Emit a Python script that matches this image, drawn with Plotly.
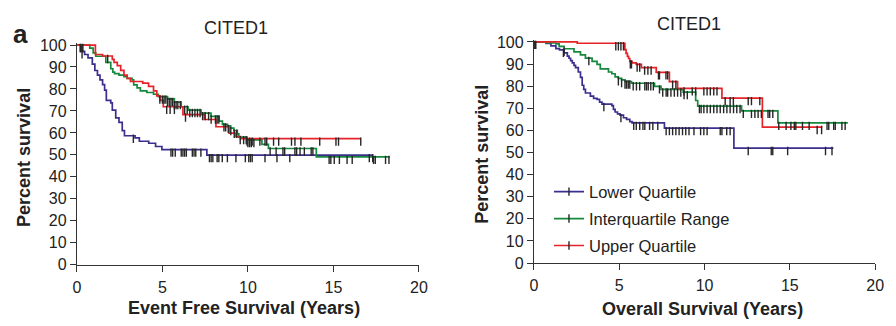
import plotly.graph_objects as go

# ---------------- Event free survival (left panel) ----------------
efs_lower_t = [0, 0.25, 0.45, 0.65, 0.9, 1.05, 1.2, 1.35, 1.5, 1.62, 1.72, 1.98, 2.07, 2.27, 2.46, 2.65, 2.78, 3.4, 3.65, 4.2, 4.6, 4.97, 7.6, 17.3]
efs_lower_s = [100, 97.1, 95.7, 94.2, 91.3, 88.4, 86.3, 84.1, 82.0, 79.5, 74.8, 73.7, 70.4, 66.8, 64.8, 61.0, 58.7, 57.7, 56.2, 55.3, 53.8, 52.4, 49.9, 49.9]
efs_lower_c = [0.2, 0.3, 3.3, 5.5, 5.6, 5.75, 6.1, 6.2, 6.3, 6.4, 6.75, 6.85, 6.95, 7.25, 7.75, 7.85, 7.95, 8.2, 8.3, 8.5, 8.8, 9.3,
               9.85, 10.05, 10.15, 10.25, 11.0, 11.7, 12.45, 17.1, 17.3]

efs_inter_t = [0, 0.75, 0.95, 1.1, 1.69, 1.98, 2.1, 2.2, 2.46, 2.75, 2.94, 3.23, 3.32, 3.52, 3.71, 4.09, 4.48, 4.76, 5.3, 5.7,
               6.1, 6.5, 7.26, 7.84, 8.32, 8.51, 8.8, 8.99, 9.18, 9.38, 9.47, 9.95, 10.82, 11.2, 14.0, 18.3]
efs_inter_s = [100, 98.6, 96.4, 94.9, 92.1, 89.2, 87.7, 87.0, 86.3, 85.6, 84.8, 84.1, 81.9, 80.5, 79.1, 78.4, 77.6, 76.5, 75.5, 74.0,
               71.9, 70.4, 69.0, 67.5, 65.4, 63.9, 63.2, 62.2, 61.0, 59.6, 58.1, 56.8, 54.8, 52.9, 49.1, 49.1]
efs_inter_c = [0.2, 0.35, 4.85, 5.0, 5.1, 5.2, 5.3, 5.4, 5.5, 5.6, 5.7, 5.8, 5.9, 6.05, 6.3, 6.45, 6.6, 6.75, 6.9, 7.05, 7.2,
               7.35, 7.5, 7.7, 7.85, 8.1, 8.2, 8.3, 8.6, 8.7, 8.85, 9.0, 9.2, 9.35, 9.55, 9.75, 9.9, 10.0, 10.1, 10.2, 10.35,
               11.3, 11.65, 12.05, 12.15, 12.75, 12.85, 13.05, 13.3, 13.7, 13.8, 14.75, 14.85, 15.05, 15.35, 15.8, 16.1,
               17.35, 17.45, 18.05, 18.25]

efs_upper_t = [0, 1.08, 1.5, 2.07, 2.17, 2.36, 2.56, 2.75, 2.94, 3.13, 3.85, 4.19, 4.48, 4.67, 4.86, 5.05, 6.2, 7.45, 8.13, 8.9, 9.28, 9.57, 16.6]
efs_upper_s = [100, 95.7, 95.0, 93.5, 92.1, 90.6, 88.5, 86.3, 84.8, 83.4, 82.7, 81.2, 79.1, 76.9, 74.8, 71.9, 68.3, 66.1, 62.8, 59.9, 58.3, 57.4, 57.4]
efs_upper_c = [0.3, 1.8, 5.25, 5.45, 5.7, 6.35, 9.95, 10.1, 10.25, 10.7, 11.0, 11.1, 11.5, 11.8, 12.55, 12.75, 13.1, 14.2,
               15.15, 15.3, 16.6]

# ---------------- Overall survival (right panel) ----------------
os_lower_t = [0, 0.71, 1.0, 1.29, 1.5, 1.77, 1.96, 2.06, 2.15, 2.25, 2.35, 2.44, 2.6, 2.73, 2.83, 2.92, 3.02, 3.31, 3.5, 3.7,
              3.85, 3.99, 4.57, 4.66, 4.76, 4.9, 5.05, 5.25, 5.43, 5.62, 5.75, 7.65, 11.72, 17.55]
os_lower_s = [100, 99.3, 98.2, 97.0, 96.4, 95.0, 93.6, 92.6, 91.5, 90.5, 89.4, 88.4, 86.4, 84.0, 80.4, 78.5, 76.9, 75.5, 74.5, 74.0,
              72.8, 71.9, 71.2, 69.5, 68.3, 67.5, 66.9, 65.7, 65.0, 64.0, 63.4, 61.0, 52.0, 52.0]
os_lower_c = [0.1, 1.73, 4.1, 5.1, 5.85, 6.0, 6.2, 6.39, 6.5, 6.78, 6.97, 7.26, 7.75, 7.94, 8.13, 8.32, 8.51, 8.71, 8.9, 9.09,
              9.38, 9.77, 9.96, 10.15, 10.92, 11.02, 11.3, 11.5, 12.56, 13.91, 14.0, 14.87, 17.09, 17.47]

os_inter_t = [0, 0.71, 1.29, 1.48, 1.77, 2.35, 2.73, 3.02, 3.41, 3.7, 3.89, 4.37, 4.57, 4.76, 4.95, 5.14, 5.34, 5.72, 7.07, 7.45,
              8.75, 9.48, 9.6, 12.17, 14.3, 18.4]
os_inter_s = [100, 99.5, 99.1, 98.0, 96.9, 95.5, 94.1, 92.7, 91.2, 89.8, 87.8, 86.4, 85.6, 84.2, 83.5, 82.8, 82.1, 81.3, 79.9, 78.5,
              77.3, 73.5, 71.0, 68.8, 63.4, 63.4]
os_inter_c = [0.1, 1.77, 3.22, 4.95, 5.14, 5.34, 5.43, 5.53, 5.62, 5.82, 6.01, 6.2, 6.5, 6.6, 6.7, 6.85, 7.0, 7.36, 7.55, 7.75,
              7.84, 8.03, 8.23, 8.42, 8.61, 8.8, 8.99, 9.7, 9.8, 9.96, 10.15, 10.34, 10.54, 10.73, 10.92, 11.12, 11.31, 11.5,
              11.7, 11.89, 12.08, 12.27, 12.75, 12.95, 13.14, 13.33, 13.72, 13.82, 14.0, 14.35, 14.78, 15.06, 15.26, 15.35,
              15.74, 16.13, 17.18, 17.28, 17.57, 17.66, 18.05, 18.24]

os_upper_t = [0, 2.54, 5.33, 5.4, 5.48, 5.55, 5.62, 5.75, 6.0, 6.3, 7.17, 7.94, 8.42, 11.02, 13.39, 16.9]
os_upper_s = [100, 99.4, 96.5, 94.8, 93.5, 92.5, 91.2, 90.5, 89.8, 88.4, 86.2, 82.0, 79.0, 74.6, 61.5, 61.5]
os_upper_c = [0.05, 4.8, 4.95, 5.1, 5.25, 5.65, 5.72, 6.05, 6.2, 6.49, 6.68, 6.87, 7.3, 7.36, 7.74, 7.84, 8.13, 8.32, 8.8,
              9.28, 9.48, 9.96, 10.15, 10.34, 10.54, 10.73, 11.21, 11.5, 11.69, 12.56, 12.75, 13.24, 16.6, 16.86]

series_names = ["Lower Quartile", "Interquartile Range", "Upper Quartile"]
x_ticks = [0, 5, 10, 15, 20]
y_ticks = [0, 10, 20, 30, 40, 50, 60, 70, 80, 90, 100]
panel_title = "CITED1"
x_titles = ["Event Free Survival (Years)", "Overall Survival (Years)"]
y_title = "Percent survival"

COLORS = ["#3b2f8e", "#16893c", "#e52329"]
CENSOR = "#262626"
FONT = "Liberation Sans, Arial, Helvetica, sans-serif"


def surv_at(t, s, times):
    out = []
    for c in times:
        idx = 0
        for i, ti in enumerate(t):
            if ti <= c:
                idx = i
        out.append(s[idx])
    return out


fig = go.Figure()

panels = [
    ("x", "y", [(efs_lower_t, efs_lower_s, efs_lower_c), (efs_inter_t, efs_inter_s, efs_inter_c), (efs_upper_t, efs_upper_s, efs_upper_c)]),
    ("x2", "y2", [(os_lower_t, os_lower_s, os_lower_c), (os_inter_t, os_inter_s, os_inter_c), (os_upper_t, os_upper_s, os_upper_c)]),
]

for xa, ya, curves in panels:
    for k, (t, s, c) in enumerate(curves):
        fig.add_trace(go.Scatter(x=t, y=s, mode="lines", line=dict(color=COLORS[k], width=1.7, shape="hv"),
                                 xaxis=xa, yaxis=ya, showlegend=False, hoverinfo="skip", legendgroup=series_names[k]))
    for k, (t, s, c) in enumerate(curves):
        fig.add_trace(go.Scatter(x=c, y=surv_at(t, s, c), mode="markers",
                                 marker=dict(symbol="line-ns", size=6, angle=0, standoff=3,
                                             line=dict(color=CENSOR, width=1.4)),
                                 xaxis=xa, yaxis=ya, showlegend=False, hoverinfo="skip", legendgroup=series_names[k]))

# legend entries (right panel)
for k, name in enumerate(series_names):
    fig.add_trace(go.Scatter(x=[None], y=[None], mode="lines+markers", name=name,
                             line=dict(color=COLORS[k], width=1.7),
                             marker=dict(symbol="line-ns", size=6, line=dict(color=CENSOR, width=1.4)),
                             xaxis="x2", yaxis="y2", legendgroup=name))

axis_common = dict(showline=True, linecolor="#333333", linewidth=1.2, ticks="outside", ticklen=6, tickwidth=1.2,
                   tickcolor="#333333", showgrid=False, zeroline=False, fixedrange=True,
                   tickfont=dict(family=FONT, size=16, color="#222222"))

fig.update_layout(
    width=896, height=326, margin=dict(l=0, r=0, t=0, b=0),
    paper_bgcolor="white", plot_bgcolor="white",
    xaxis=dict(domain=[74 / 896, 421 / 896], range=[0, 20], tickvals=x_ticks, anchor="y", ticklabelstandoff=2, **axis_common),
    yaxis=dict(domain=[1 - 271 / 326, 1 - 38.15 / 326], range=[0, 100.8], tickvals=y_ticks, anchor="x", **axis_common),
    xaxis2=dict(domain=[537.7 / 896, 884 / 896], range=[0, 20], tickvals=x_ticks, anchor="y2", ticklabelstandoff=2, **axis_common),
    yaxis2=dict(domain=[1 - 269.3 / 326, 1 - 34.84 / 326], range=[0, 100.8], tickvals=y_ticks, anchor="x2", **axis_common),
    showlegend=True,
    legend=dict(x=553 / 896, y=1 - 176 / 326, xanchor="left", yanchor="top", bgcolor="rgba(0,0,0,0)",
                font=dict(family=FONT, size=16.5, color="#222222"), tracegroupgap=2.5, traceorder="grouped"),
)

ann = [
    dict(text="<b>a</b>", x=16.7 / 896, y=1 - 28 / 326, font=dict(size=26)),
    dict(text=panel_title, x=235 / 896, y=1 - 22 / 326, font=dict(size=18)),
    dict(text=panel_title, x=695 / 896, y=1 - 18 / 326, font=dict(size=18)),
    dict(text="<b>" + y_title + "</b>", x=21 / 896, y=1 - 158 / 326, textangle=-90, font=dict(size=18)),
    dict(text="<b>" + y_title + "</b>", x=485.5 / 896, y=1 - 155 / 326, textangle=-90, font=dict(size=18)),
    dict(text="<b>" + x_titles[0] + "</b>", x=244 / 896, y=1 - 317 / 326, font=dict(size=18)),
    dict(text="<b>" + x_titles[1] + "</b>", x=709 / 896, y=1 - 317.5 / 326, font=dict(size=18)),
]
for a in ann:
    a.update(xref="paper", yref="paper", xanchor="center", yanchor="middle", showarrow=False)
    a["font"].update(family=FONT, color="#222222")
fig.update_layout(annotations=ann)

fig.write_html("out.html", config={"displayModeBar": False},
               post_script="document.body.style.margin='0';document.body.style.padding='0';")
